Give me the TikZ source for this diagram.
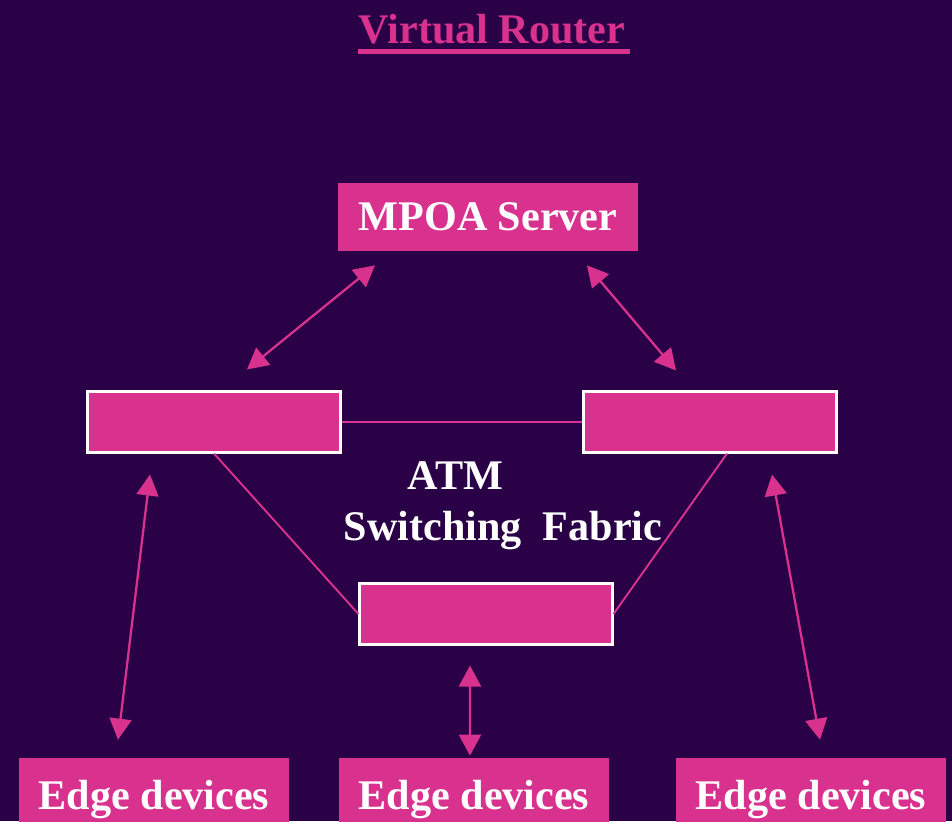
\documentclass[tikz,border=0pt]{standalone}
\usepackage{fontspec}
\setmainfont{Liberation Serif}
\usepackage{tikz}
\usetikzlibrary{arrows.meta, positioning, calc}
\definecolor{routerbg}{RGB}{42, 0, 70}
\definecolor{routerpink}{RGB}{217, 50, 142}

\begin{document}
\begin{tikzpicture}[
    x=0.02cm, y=-0.02cm,
    bigtext/.style={font=\bfseries\fontsize{24}{29}\selectfont},
    serverbox/.style={rectangle, fill=routerpink, text=white, minimum width=6cm, minimum height=1.36cm, bigtext},
    switchbox/.style={rectangle, fill=routerpink, draw=white, line width=1.2pt, minimum width=5.06cm, minimum height=1.22cm},
    edgebox/.style={rectangle, fill=routerpink, text=white, minimum width=5.42cm, minimum height=1.68cm, bigtext},
    link/.style={routerpink, line width=1.1pt},
    darrow/.style={{Triangle[length=0.42cm,width=0.44cm]}-{Triangle[length=0.42cm,width=0.44cm]}, routerpink, line width=1.3pt}
]

% Background
\fill[routerbg] (0,0) rectangle (952,821);
\useasboundingbox (0,0) rectangle (952,821);

% Title
\node[bigtext, text=routerpink, inner sep=0pt] (title) at (492,29) {Virtual Router};
\draw[routerpink, line width=2.6pt] ([yshift=-0.14cm]title.south west) -- ([xshift=0.08cm,yshift=-0.14cm]title.south east);

% Server
\node[serverbox] (mpoa) at (488,217) {\raisebox{-2pt}{MPOA Server}};

% Switches
\node[switchbox] (swleft) at (214,422) {};
\node[switchbox] (swright) at (710,422) {};
\node[switchbox] (swbottom) at (486,614) {};

% Fabric label
\node[bigtext, text=white, align=left, inner sep=0pt] (fabric) at (503,506) {\hspace{1.28cm}ATM\\Switching\ \ Fabric};

% Edge devices
\node[edgebox] (edge1) at (154,800) {Edge devices};
\node[edgebox] (edge2) at (474,800) {Edge devices};
\node[edgebox] (edge3) at (811,800) {Edge devices};

% Fabric links
\draw[link] (swleft.east) -- (swright.west);
\draw[link] (swleft.south) -- (swbottom.west);
\draw[link] ([xshift=0.34cm]swright.south) -- (swbottom.east);

% Server arrows
\draw[darrow] ([xshift=-2.26cm,yshift=-0.28cm]mpoa.south) -- ([xshift=0.66cm,yshift=0.42cm]swleft.north);
\draw[darrow] ([xshift=1.98cm,yshift=-0.28cm]mpoa.south) -- ([xshift=-0.68cm,yshift=0.40cm]swright.north);

% Edge arrows
\draw[darrow] ([xshift=-1.28cm,yshift=-0.42cm]swleft.south) -- ([xshift=-0.72cm,yshift=0.36cm]edge1.north);
\draw[darrow] ([xshift=1.24cm,yshift=-0.42cm]swright.south) -- ([xshift=0.18cm,yshift=0.36cm]edge3.north);
\draw[darrow] ([xshift=-0.32cm,yshift=-0.40cm]swbottom.south) -- ([xshift=-0.08cm,yshift=0.04cm]edge2.north);

\end{tikzpicture}
\end{document}
